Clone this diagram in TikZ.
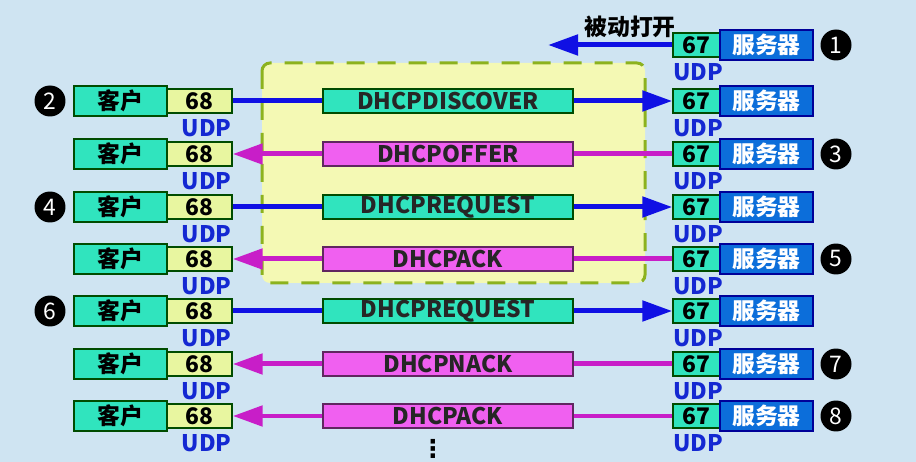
\documentclass[tikz,border=0pt]{standalone}
\usepackage{fontspec}
\setmainfont{Noto Sans CJK SC}
\newfontfamily\dejavu{DejaVu Sans}
\usetikzlibrary{arrows.meta}
\definecolor{bgblue}{RGB}{207,228,242}
\definecolor{teal}{RGB}{48,228,190}
\definecolor{lime}{RGB}{232,246,160}
\definecolor{srvblue}{RGB}{12,110,218}
\definecolor{pink}{RGB}{240,96,240}
\definecolor{arrblue}{RGB}{16,16,228}
\definecolor{arrpink}{RGB}{200,30,200}
\definecolor{udpblue}{RGB}{20,40,210}
\definecolor{boxyellow}{RGB}{244,249,180}
\definecolor{dashgreen}{RGB}{140,178,30}
\tikzset{
  box/.style={draw=black!70!green,line width=0.8pt,inner sep=0pt,font=\fontsize{13}{15}\selectfont\bfseries},
  client/.style={box,fill=teal,minimum width=1.86cm,minimum height=0.6cm},
  cport/.style={box,fill=lime,minimum width=1.3cm,minimum height=0.48cm},
  sport/.style={box,fill=teal,minimum width=0.94cm,minimum height=0.48cm},
  server/.style={box,draw=blue!60!black,fill=srvblue,text=white,minimum width=1.86cm,minimum height=0.6cm},
  msgreq/.style={box,fill=teal,text=black!85,minimum width=5cm,minimum height=0.48cm},
  msgrep/.style={box,draw=black!60!pink,fill=pink,text=black!85,minimum width=5cm,minimum height=0.48cm},
  udp/.style={inner sep=0pt,text=udpblue,font=\fontsize{13}{15}\selectfont\bfseries},
  num/.style={circle,fill=black,text=white,inner sep=0pt,minimum size=0.62cm,font=\fontsize{13}{15}\selectfont},
  toserver/.style={arrblue,line width=0.1cm},
  toclient/.style={arrpink,line width=0.1cm},
  tip/.style={-{Triangle[length=0.6cm,width=0.4cm]}},
}
\begin{document}
\begin{tikzpicture}[x=0.02cm,y=-0.02cm]
\useasboundingbox (0,0) rectangle (916,462);
\fill[bgblue] (0,0) rectangle (916,462);
\draw[dashgreen,fill=boxyellow,line width=0.06cm,dash pattern=on 0.36cm off 0.26cm,rounded corners=0.16cm] (262,63) rectangle (645,283);
% passive open
\node[sport] (sp1) at (696.5,45) {67};
\node[server] (srv1) at (766.5,45) {服务器};
\node[udp,anchor=west] (us1) at (673,72.5) {UDP};
\node[num] (n1) at (836,45) {1};
\coordinate (open) at (548,45);
\draw[toserver,tip] (sp1.west) -- (open);
\node[font=\fontsize{13}{15}\selectfont\bfseries] (passive) at (630,27) {被动打开};
% client -> server
\foreach \r/\y/\msg in {2/101/DHCPDISCOVER,4/207/DHCPREQUEST,6/311/DHCPREQUEST} {
  \node[client] (cli\r) at (120.5,\y) {客户};
  \node[cport] (cp\r) at (199.5,\y) {68};
  \node[udp,anchor=east] (uc\r) at (232,\y+27.5) {UDP};
  \node[msgreq] (msg\r) at (448,\y) {\msg};
  \node[sport] (sp\r) at (696.5,\y) {67};
  \node[server] (srv\r) at (766.5,\y) {服务器};
  \node[udp,anchor=west] (us\r) at (673,\y+27.5) {UDP};
  \node[num] (n\r) at (50,\y) {\r};
  \draw[toserver] (cp\r.east) -- (msg\r.west);
  \draw[toserver,tip] (msg\r.east) -- (sp\r.west);
}
% server -> client
\foreach \r/\y/\msg in {3/154/DHCPOFFER,5/259/DHCPACK,7/364/DHCPNACK,8/416/DHCPACK} {
  \node[client] (cli\r) at (120.5,\y) {客户};
  \node[cport] (cp\r) at (199.5,\y) {68};
  \node[udp,anchor=east] (uc\r) at (232,\y+27.5) {UDP};
  \node[msgrep] (msg\r) at (448,\y) {\msg};
  \node[sport] (sp\r) at (696.5,\y) {67};
  \node[server] (srv\r) at (766.5,\y) {服务器};
  \node[udp,anchor=west] (us\r) at (673,\y+27.5) {UDP};
  \node[num] (n\r) at (836,\y) {\r};
  \draw[toclient] (sp\r.west) -- (msg\r.east);
  \draw[toclient,tip] (msg\r.west) -- (cp\r.east);
}
\node[font=\dejavu\fontsize{14}{16}\selectfont\bfseries] (more) at (433,449) {⋮};
\end{tikzpicture}
\end{document}
